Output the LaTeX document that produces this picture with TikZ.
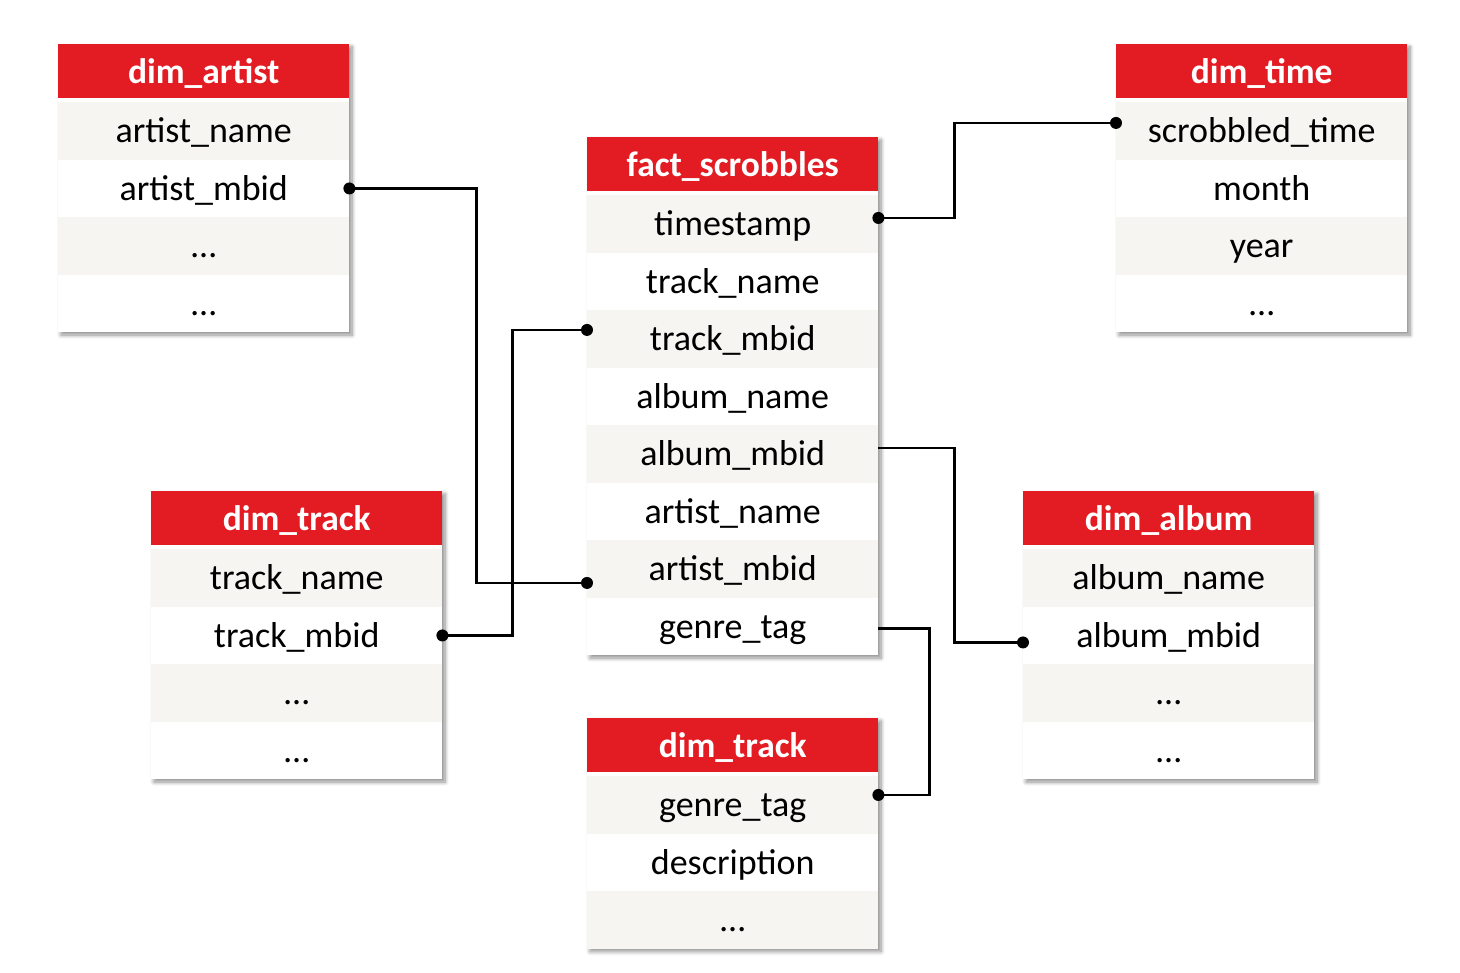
\documentclass[tikz,border=0pt]{standalone}
\usepackage{fontspec}
\setmainfont{Carlito}
\usetikzlibrary{shadows.blur,calc}
\definecolor{hdr}{HTML}{E31B23}
\definecolor{rowg}{HTML}{F6F5F2}
\tikzset{
  shadowbox/.style={fill=white, blur shadow={shadow xshift=3pt, shadow yshift=-3pt, shadow blur radius=4pt, shadow blur steps=8, shadow opacity=45}},
  hdrbox/.style={fill=hdr, text=white, font=\fontsize{35.5}{38}\selectfont\bfseries, minimum width=291pt, minimum height=54pt, anchor=north west, inner sep=0pt, text height=25pt, text depth=0pt},
  rowbox/.style={minimum width=291pt, minimum height=57.5pt, anchor=north west, inner sep=0pt, font=\fontsize{36}{40}\selectfont, text height=24pt, text depth=0pt},
  link/.style={line width=2.3pt},
  dot/.style={circle, fill=black, inner sep=0pt, minimum size=12pt}
}
\newcommand\dbtable[6]{% name, x, y(top), title, nrows, rows
  \pgfmathsetmacro\tblh{58+#5*57.5}
  \path[shadowbox] (#2,#3) rectangle ++(291,\tblh);
  \node[hdrbox] (#1-h) at (#2,#3) {#4};
  \foreach \t [count=\i] in {#6} {
    \pgfmathsetmacro\yy{#3+58+(\i-1)*57.5}
    \ifodd\i\relax\def\ff{rowg}\else\def\ff{white}\fi
    \node[rowbox, fill=\ff] (#1-\i) at (#2,\yy) {\t};
  }
}
\begin{document}
\begin{tikzpicture}[x=1pt,y=-1pt]
\useasboundingbox (0,0) rectangle (1460,973);
\dbtable{da}{58}{44}{dim\_artist}{4}{artist\_name,artist\_mbid,…,…}
\dbtable{tm}{1116}{44}{dim\_time}{4}{scrobbled\_time,month,year,…}
\dbtable{fs}{587}{137}{fact\_scrobbles}{8}{timestamp,track\_name,track\_mbid,album\_name,album\_mbid,artist\_name,artist\_mbid,genre\_tag}
\dbtable{dt}{151}{491}{dim\_track}{4}{track\_name,track\_mbid,…,…}
\dbtable{al}{1023}{491}{dim\_album}{4}{album\_name,album\_mbid,…,…}
\dbtable{gt}{587}{718}{dim\_track}{3}{genre\_tag,description,…}

% artist_mbid
\draw[link] (da-2.east) -- ++(127,0) |- ($(fs-7.west)+(0,14)$);
\node[dot] (d1a) at (da-2.east) {};
\node[dot] (d1b) at ($(fs-7.west)+(0,14)$) {};
% track_mbid
\draw[link] (dt-2.east) -- ++(70,0) |- ($(fs-3.west)+(0,-9)$);
\node[dot] (d2a) at (dt-2.east) {};
\node[dot] (d2b) at ($(fs-3.west)+(0,-9)$) {};
% timestamp
\draw[link] ($(fs-1.east)+(0,-6)$) -- ++(76,0) |- ($(tm-1.west)+(0,-8)$);
\node[dot] (d3a) at ($(fs-1.east)+(0,-6)$) {};
\node[dot] (d3b) at ($(tm-1.west)+(0,-8)$) {};
% album_mbid
\draw[link] ($(fs-5.east)+(0,-6)$) -- ++(76,0) |- ($(al-2.west)+(0,7)$);
\node[dot] (d4b) at ($(al-2.west)+(0,7)$) {};
% genre_tag
\draw[link] ($(fs-8.east)+(0,2)$) -- ++(51,0) |- ($(gt-1.east)+(0,-10)$);
\node[dot] (d5b) at ($(gt-1.east)+(0,-10)$) {};
\end{tikzpicture}
\end{document}
